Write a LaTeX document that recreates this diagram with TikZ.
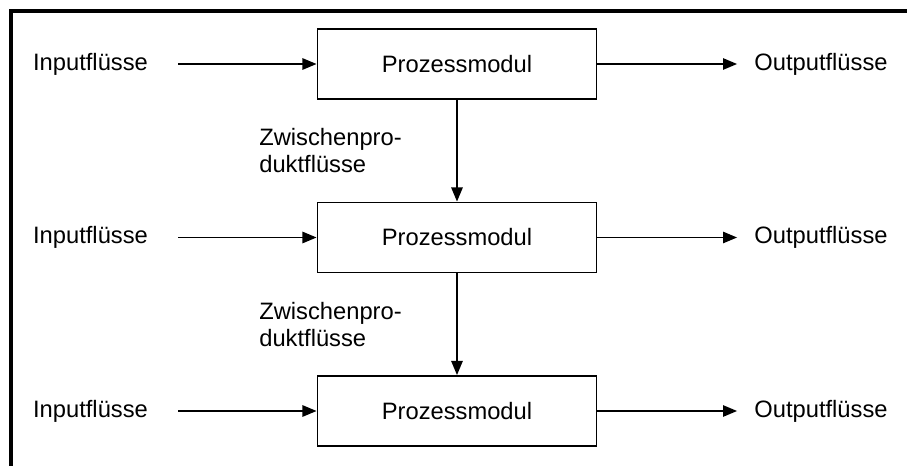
\documentclass[tikz,border=0pt]{standalone}
\usepackage{fontspec}
\setmainfont{Liberation Sans}
\usetikzlibrary{arrows.meta}
\begin{document}
\begin{tikzpicture}[x=0.02cm,y=-0.02cm,
  every node/.style={font=\fontsize{13.5}{15.4}\selectfont},
  modul/.style={draw,line width=1.1pt,minimum width=279*0.02cm,minimum height=70*0.02cm,inner sep=0pt},
  label/.style={inner sep=0pt},
  flow/.style={line width=0.8pt,-{Triangle[length=8pt,width=6.5pt]}}]
  \useasboundingbox (0,0) rectangle (907,466);
  % frame around the figure (extends past the page edge)
  \begin{scope}
    \clip (0,0) rectangle (907,466);
    \draw[line width=1.8pt] (11,480) -- (11,11) -- (920,11);
  \end{scope}
  % process modules
  \node[modul] (m1) at (457,64) {Prozessmodul};
  \node[modul] (m2) at (457,237.5) {Prozessmodul};
  \node[modul] (m3) at (457,411) {Prozessmodul};
  % input labels
  \node[label] (i1) at (90.5,64) {Inputflüsse};
  \node[label] (i2) at (90.5,237.5) {Inputflüsse};
  \node[label] (i3) at (90.5,411) {Inputflüsse};
  % output labels
  \node[label] (o1) at (821,64) {Outputflüsse};
  \node[label] (o2) at (821,237.5) {Outputflüsse};
  \node[label] (o3) at (821,411) {Outputflüsse};
  % intermediate product labels
  \node[label,anchor=north west,align=left] (z1) at (259,128) {Zwischenpro-\\duktflüsse};
  \node[label,anchor=north west,align=left] (z2) at (259,302) {Zwischenpro-\\duktflüsse};
  % flows
  \foreach \k in {1,2,3}{
    \draw[flow] ([xshift=30*0.02cm]i\k.east) -- (m\k.west);
    \draw[flow] (m\k.east) -- ([xshift=-17*0.02cm]o\k.west);
  }
  \draw[flow] (m1.south) -- (m2.north);
  \draw[flow] (m2.south) -- (m3.north);
\end{tikzpicture}
\end{document}
